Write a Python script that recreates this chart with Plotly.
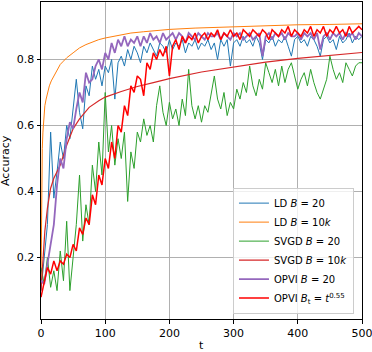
import plotly.graph_objects as go

# sample steps for the noisy runs
t_noisy = list(range(0, 501, 5))

ld_b20 = [0.10, 0.21, 0.30, 0.58, 0.38, 0.46, 0.55, 0.50, 0.60, 0.56,
          0.66, 0.74, 0.64, 0.59, 0.72, 0.69, 0.78, 0.74, 0.77, 0.72,
          0.78, 0.76, 0.80, 0.68, 0.79, 0.81, 0.78, 0.83, 0.80, 0.84,
          0.82, 0.79, 0.84, 0.82, 0.85, 0.83, 0.81, 0.85, 0.84, 0.82,
          0.86, 0.83, 0.85, 0.84, 0.86, 0.82, 0.85, 0.84, 0.86, 0.83,
          0.85, 0.84, 0.86, 0.83, 0.85, 0.80, 0.86, 0.84, 0.86, 0.78,
          0.85, 0.86, 0.84, 0.87, 0.85, 0.86, 0.84, 0.87, 0.85, 0.80,
          0.86, 0.85, 0.87, 0.84, 0.86, 0.85, 0.87, 0.84, 0.81, 0.86,
          0.87, 0.85, 0.86, 0.84, 0.87, 0.86, 0.84, 0.81, 0.86, 0.87,
          0.85, 0.86, 0.83, 0.87, 0.85, 0.86, 0.88, 0.85, 0.87, 0.86,
          0.87]

svgd_b20 = [0.17, 0.12, 0.20, 0.11, 0.16, 0.10, 0.22, 0.13, 0.31, 0.10,
            0.20, 0.30, 0.45, 0.25, 0.36, 0.30, 0.48, 0.40, 0.55, 0.45,
            0.70, 0.52, 0.60, 0.48, 0.56, 0.50, 0.58, 0.37, 0.52, 0.47,
            0.58, 0.55, 0.62, 0.57, 0.60, 0.55, 0.66, 0.72, 0.64, 0.60,
            0.67, 0.62, 0.65, 0.60, 0.68, 0.63, 0.77, 0.66, 0.62, 0.66,
            0.61, 0.66, 0.64, 0.70, 0.75, 0.68, 0.65, 0.70, 0.63, 0.67,
            0.65, 0.71, 0.68, 0.73, 0.70, 0.78, 0.72, 0.69, 0.74, 0.71,
            0.79, 0.76, 0.73, 0.77, 0.72, 0.78, 0.73, 0.77, 0.79, 0.75,
            0.71, 0.74, 0.76, 0.72, 0.77, 0.73, 0.70, 0.68, 0.71, 0.74,
            0.81, 0.77, 0.74, 0.76, 0.73, 0.79, 0.77, 0.75, 0.78, 0.79,
            0.79]

opvi_b20 = [0.13, 0.12, 0.18, 0.24, 0.30, 0.42, 0.50, 0.47, 0.56, 0.61,
            0.59, 0.65, 0.70, 0.67, 0.76, 0.73, 0.74, 0.78, 0.80, 0.77,
            0.82, 0.80, 0.85, 0.82, 0.86, 0.84, 0.87, 0.84, 0.86, 0.85,
            0.87, 0.84, 0.87, 0.85, 0.88, 0.86, 0.87, 0.85, 0.88, 0.86,
            0.87, 0.88, 0.86, 0.88, 0.87, 0.85, 0.88, 0.87, 0.86, 0.88,
            0.87, 0.86, 0.88, 0.87, 0.87, 0.88, 0.86, 0.88, 0.87, 0.86,
            0.88, 0.87, 0.88, 0.86, 0.87, 0.88, 0.86, 0.87, 0.88, 0.81,
            0.87, 0.88, 0.86, 0.88, 0.87, 0.88, 0.86, 0.88, 0.87, 0.87,
            0.88, 0.86, 0.88, 0.87, 0.88, 0.86, 0.88, 0.83, 0.87, 0.88,
            0.86, 0.88, 0.87, 0.88, 0.86, 0.88, 0.87, 0.88, 0.86, 0.88,
            0.87]

opvi_bt = [0.08, 0.13, 0.17, 0.15, 0.19, 0.16, 0.19, 0.18, 0.21, 0.20,
           0.24, 0.22, 0.29, 0.27, 0.32, 0.30, 0.39, 0.36, 0.45, 0.42,
           0.50, 0.47, 0.55, 0.50, 0.60, 0.58, 0.66, 0.63, 0.72, 0.70,
           0.75, 0.74, 0.69, 0.79, 0.77, 0.82, 0.80, 0.83, 0.81, 0.84,
           0.75, 0.84, 0.86, 0.83, 0.87, 0.85, 0.87, 0.86, 0.88, 0.85,
           0.87, 0.88, 0.86, 0.88, 0.87, 0.89, 0.86, 0.88, 0.87, 0.89,
           0.87, 0.88, 0.86, 0.89, 0.88, 0.87, 0.89, 0.88, 0.87, 0.89,
           0.88, 0.86, 0.89, 0.88, 0.87, 0.89, 0.88, 0.90, 0.87, 0.89,
           0.88, 0.87, 0.89, 0.88, 0.90, 0.87, 0.89, 0.88, 0.90, 0.87,
           0.89, 0.88, 0.90, 0.88, 0.89, 0.87, 0.90, 0.88, 0.89, 0.90,
           0.89]

# smooth runs (large batch)
t_ld_10k = [0, 1, 2, 3, 4, 6, 8, 10, 13, 16, 20, 25, 30, 35, 40, 50, 60, 70,
            80, 90, 100, 120, 140, 160, 180, 200, 240, 280, 320, 360, 400,
            450, 500]
ld_b10k = [0.12, 0.42, 0.53, 0.58, 0.62, 0.66, 0.68, 0.70, 0.72, 0.735, 0.75,
           0.77, 0.785, 0.795, 0.805, 0.82, 0.835, 0.845, 0.853, 0.86, 0.865,
           0.873, 0.88, 0.884, 0.888, 0.891, 0.895, 0.898, 0.901, 0.903,
           0.905, 0.906, 0.908]

t_svgd_10k = [0, 3, 6, 10, 15, 20, 25, 30, 40, 50, 60, 75, 90, 100, 125, 150,
              175, 200, 250, 300, 350, 400, 450, 500]
svgd_b10k = [0.10, 0.20, 0.28, 0.35, 0.41, 0.44, 0.46, 0.48, 0.54, 0.59, 0.62,
             0.655, 0.675, 0.686, 0.703, 0.718, 0.730, 0.742, 0.762, 0.778,
             0.792, 0.803, 0.813, 0.821]

fig = go.Figure()

# same order as the legend
series = [
    ("LD <i>B</i> = 20", t_noisy, ld_b20, "#1f77b4", 1.0),
    ("LD <i>B</i> = 10<i>k</i>", t_ld_10k, ld_b10k, "#ff7f0e", 1.0),
    ("SVGD <i>B</i> = 20", t_noisy, svgd_b20, "#2ca02c", 1.0),
    ("SVGD <i>B</i> = 10<i>k</i>", t_svgd_10k, svgd_b10k, "#d62728", 1.2),
    ("OPVI <i>B</i> = 20", t_noisy, opvi_b20, "#9467bd", 1.8),
    ("OPVI <i>B</i><sub>t</sub> = <i>t</i><sup>0.55</sup>", t_noisy, opvi_bt,
     "#ff0000", 1.5),
]
for name, xs, ys, color, width in series:
    fig.add_trace(go.Scatter(
        x=xs, y=ys, mode='lines', name=name,
        line=dict(color=color, width=width),
    ))

axis_style = dict(
    showline=True, mirror=True, linecolor='black', linewidth=1,
    ticks='outside', ticklen=3.5, tickwidth=0.8, tickcolor='black',
    showgrid=True, gridcolor='#b0b0b0', gridwidth=0.8, zeroline=False,
    tickfont=dict(size=11, color='black'), automargin=False,
    ticklabeloverflow='allow',
)

fig.update_layout(
    width=372, height=352,
    margin=dict(l=41, r=10, t=2, b=33),
    paper_bgcolor='white', plot_bgcolor='white',
    font=dict(family='DejaVu Sans', size=11, color='black'),
    xaxis=dict(range=[0, 500], tickvals=[0, 100, 200, 300, 400, 500],
               **axis_style),
    yaxis=dict(range=[0.014, 0.974], tickvals=[0.2, 0.4, 0.6, 0.8],
               tickformat='.1f', **axis_style),
    showlegend=True,
    legend=dict(
        x=0.975, y=0.017, xanchor='right', yanchor='bottom',
        bgcolor='rgba(255,255,255,0.8)', bordercolor='#cccccc', borderwidth=1,
        font=dict(size=10), tracegroupgap=0, itemwidth=30,
    ),
    annotations=[
        dict(text='t', x=0.5, y=0, xref='paper', yref='paper',
             xanchor='center', yanchor='top', yshift=-18, showarrow=False,
             font=dict(size=11)),
        dict(text='Accuracy', x=0, y=0.5, xref='paper', yref='paper',
             xanchor='right', yanchor='middle', xshift=-27, textangle=-90,
             showarrow=False, font=dict(size=11)),
    ],
)

# la página trae margen de 8px en body; lo quitamos
fig.write_html("out.html", config={'displayModeBar': False},
               post_script="document.body.style.margin='0';")
